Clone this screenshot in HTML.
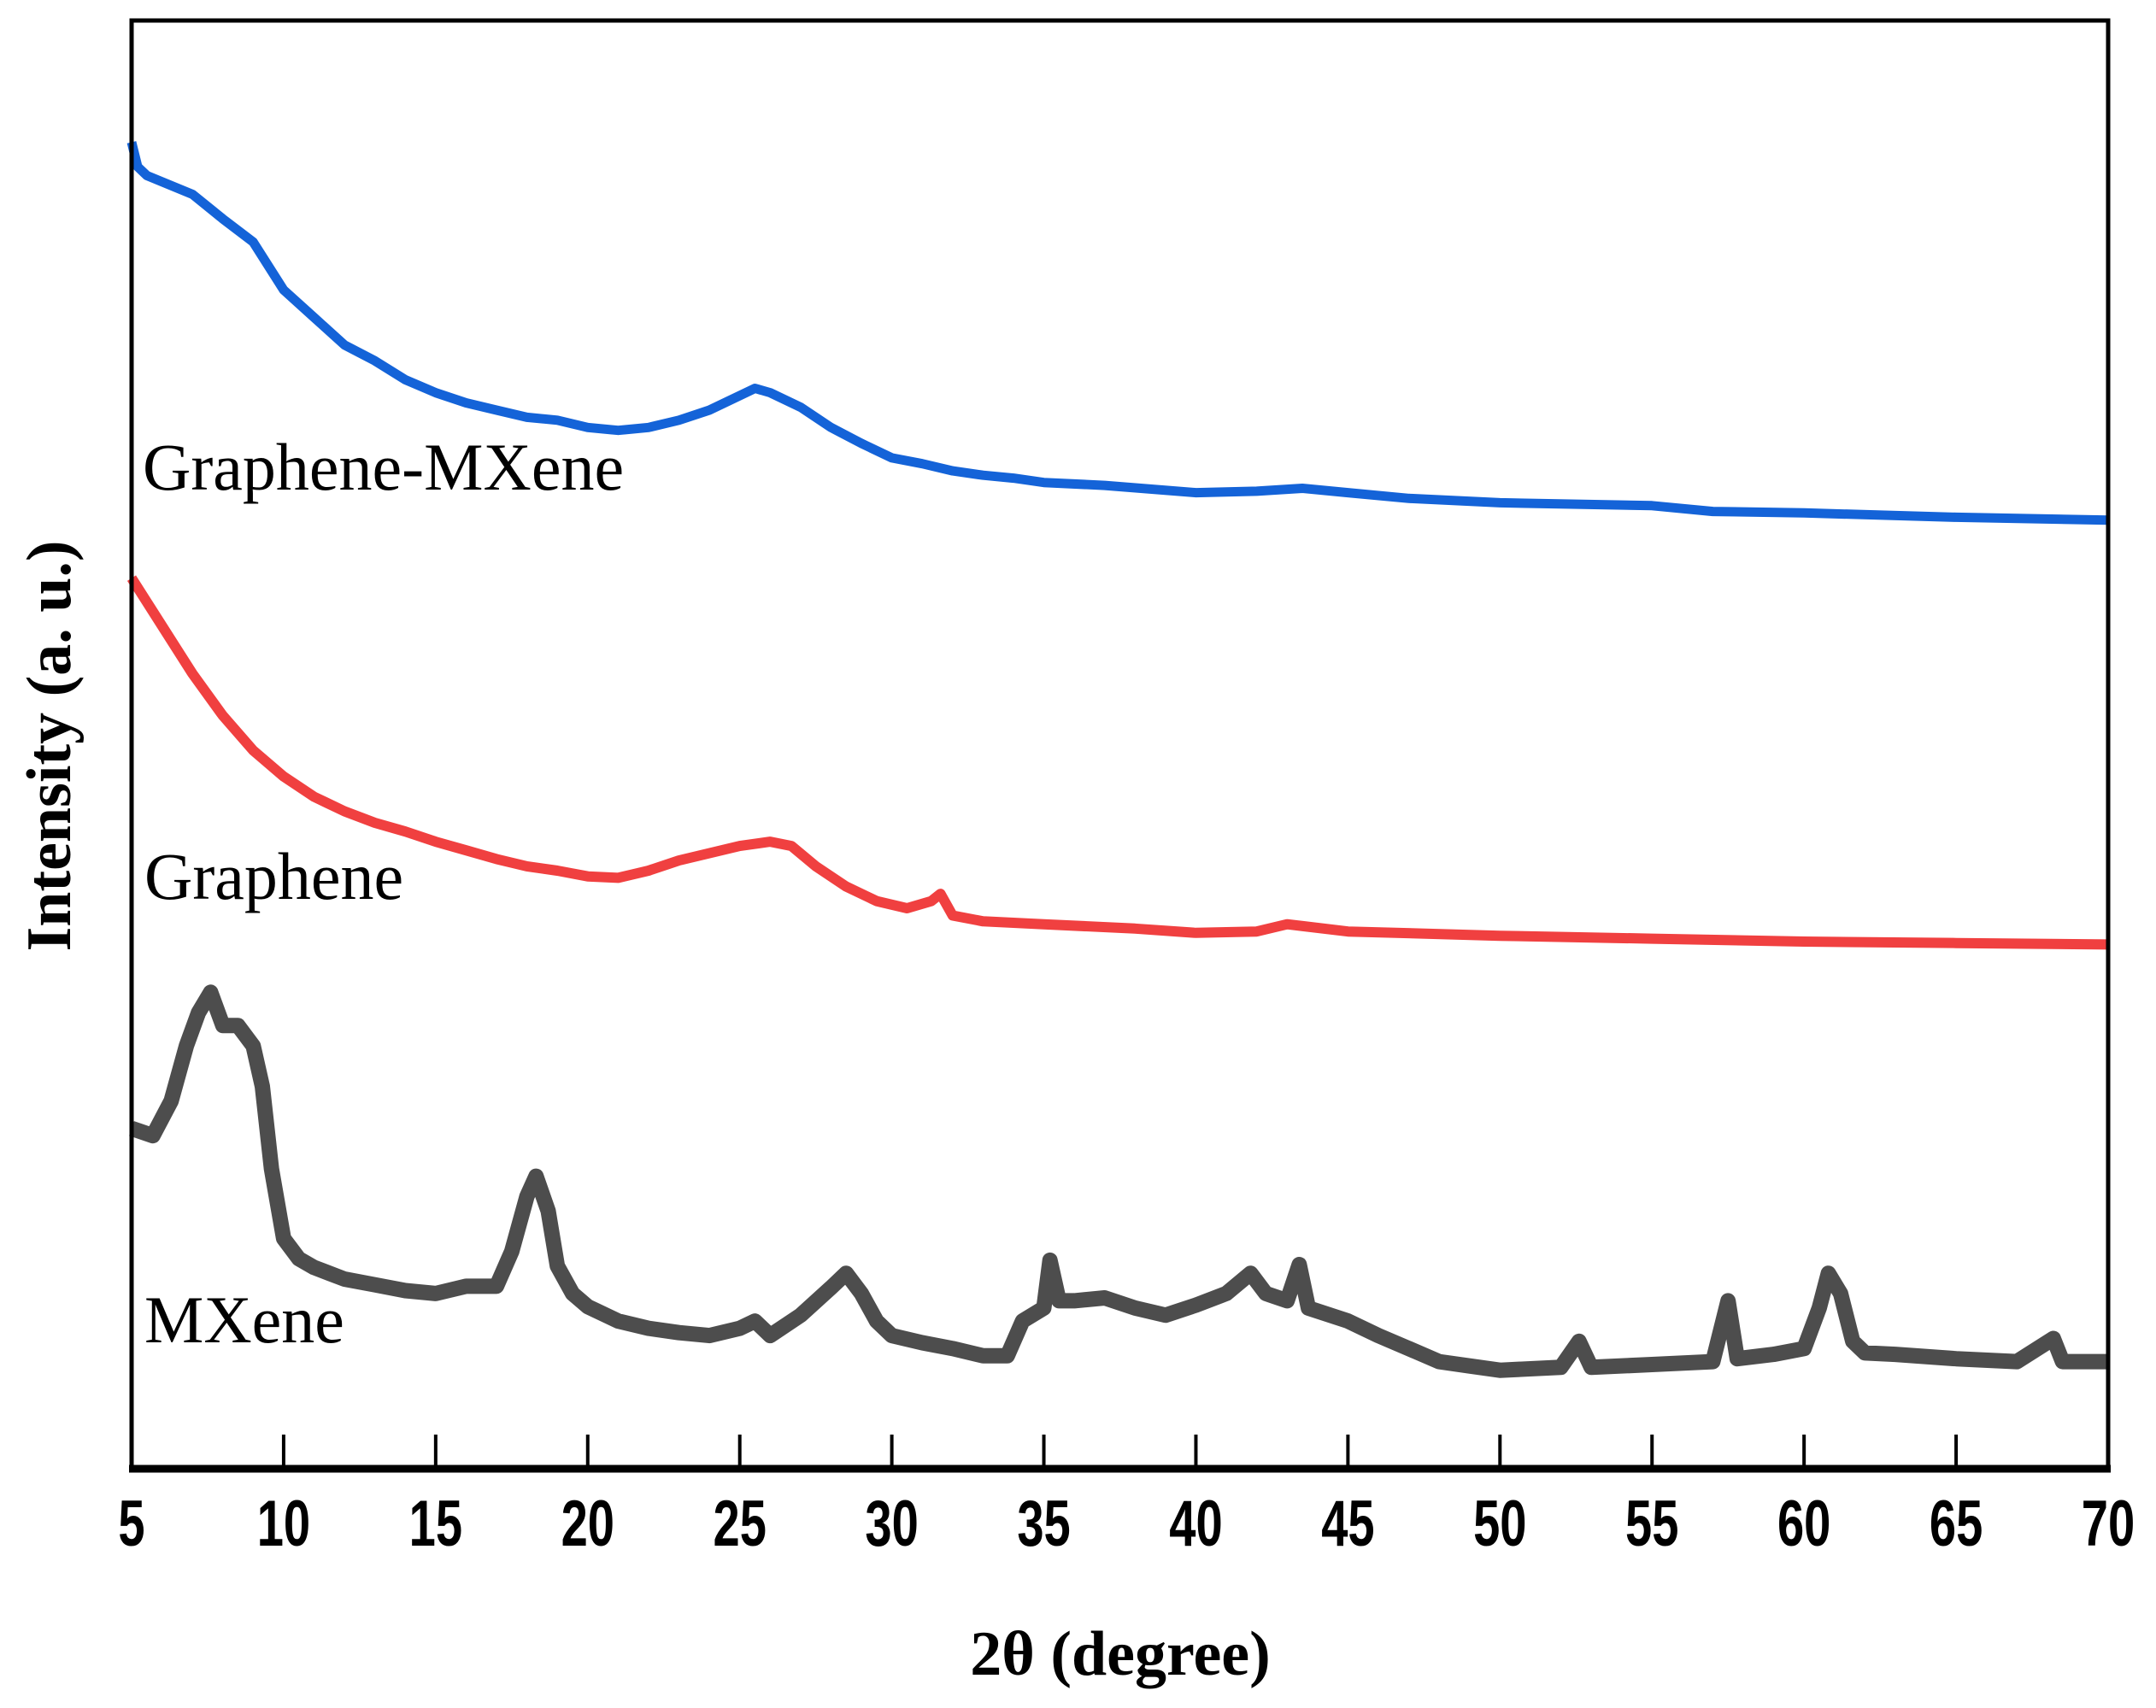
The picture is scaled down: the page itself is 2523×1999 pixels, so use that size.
<!DOCTYPE html>
<html><head><meta charset="utf-8"><style>
html,body{margin:0;padding:0;background:#fff;}
svg{display:block;}
</style></head><body>
<svg id="chart" width="2523" height="1999" viewBox="0 0 2523 1999" xmlns="http://www.w3.org/2000/svg">
<rect x="0" y="0" width="2523" height="1999" fill="#fff"/>
<g id="series"></g>
<g id="ticks"></g>
<rect x="154" y="24" width="2313" height="1695" fill="none" stroke="#000" stroke-width="5"/>
<line x1="151" y1="1719" x2="2470" y2="1719" stroke="#000" stroke-width="9"/>
<text x="167" y="573" font-family="Liberation Serif, serif" font-size="78">Graphene-MXene</text>
<text x="169" y="1052" font-family="Liberation Serif, serif" font-size="78">Graphene</text>
<text x="169" y="1571" font-family="Liberation Serif, serif" font-size="78">MXene</text>
<text x="1311" y="1960" text-anchor="middle" font-family="Liberation Serif, serif" font-weight="bold" font-size="74">2θ (degree)</text>
<text transform="translate(82,873) rotate(-90)" text-anchor="middle" font-family="Liberation Serif, serif" font-weight="bold" font-size="74">Intensity (a. u.)</text>
</svg>
<script>
const xTicks=[5,10,15,20,25,30,35,40,45,50,55,60,65,70];
const blueX=[5,5.2,5.5,7,8,9,10,11,12,13,14,15,16,17,18,19,20,21,22,23,24,25,25.5,26,27,28,29,30,31,32,33,34,35,37,40,42,43.5,45,47,50,55,57,60,65,70];
const blueY=[91.6,89.9,89.3,88,86.3,84.7,81.4,79.5,77.6,76.5,75.2,74.3,73.6,73.1,72.6,72.4,71.9,71.7,71.9,72.4,73.1,74.1,74.6,74.3,73.3,71.9,70.8,69.8,69.4,68.9,68.6,68.4,68.1,67.9,67.4,67.5,67.7,67.4,67,66.7,66.5,66.1,66,65.7,65.5];
const redX=[5,6,7,8,9,10,11,12,13,14,15,16,17,18,19,20,21,22,23,24,25,26,26.7,27.5,28.5,29.5,30.5,31.3,31.6,32,33,35,38,40,42,43,45,50,55,60,65,70];
const redY=[61.5,58.2,54.9,52,49.6,47.8,46.4,45.4,44.6,44,43.3,42.7,42.1,41.6,41.3,40.9,40.8,41.3,42,42.5,43,43.3,43,41.6,40.2,39.2,38.7,39.2,39.7,38.2,37.8,37.6,37.3,37,37.1,37.6,37.1,36.8,36.6,36.4,36.3,36.2];
const greyX=[5,5.7,6.3,6.8,7.2,7.6,8,8.5,9,9.3,9.6,10,10.5,11,12,13,14,15,16,17,17.5,18,18.3,18.7,19,19.5,20,21,22,23,24,25,25.5,26,27,28,28.5,29,29.5,30,31,32,33,33.8,34.3,35,35.2,35.5,36,37,38,39,40,41,41.8,42.3,43,43.4,43.7,45,46,47,48,49,50,52,52.6,53,55,57,57.5,57.8,59,60,60.5,60.8,61.2,61.6,62,63,65,67,68.2,68.5,70];
const greyY=[23.5,23,25.4,29.2,31.5,32.9,30.6,30.6,29.2,26.4,20.7,15.9,14.5,13.9,13.1,12.7,12.3,12.1,12.6,12.6,15,18.8,20.2,17.8,14,12.1,11.2,10.2,9.7,9.4,9.2,9.7,10.2,9.2,10.6,12.5,13.5,12.1,10.2,9.2,8.7,8.3,7.8,7.8,10.2,11.1,14.4,11.6,11.6,11.8,11.1,10.6,11.3,12.1,13.5,12.1,11.6,14.1,11.1,10.2,9.2,8.3,7.4,7.1,6.8,7,8.8,7,7.2,7.4,11.6,7.6,7.9,8.3,11.1,13.5,12.1,8.8,8,7.9,7.6,7.4,9,7.4,7.4];
const NS='http://www.w3.org/2000/svg';
const X0=154,X1=2467,Ytop=24,Ybot=1719;
function xs(v){return X0+(v-5)/(70-5)*(X1-X0);}
function ys(v){return Ybot-v/100*(Ybot-Ytop);}
const sg=document.getElementById('series');
function drawLine(xa,ya,color,w,name){
  let d='';
  for(let i=0;i<xa.length;i++){d+=(i?'L':'M')+xs(xa[i]).toFixed(1)+','+ys(ya[i]).toFixed(1);}
  const p=document.createElementNS(NS,'path');
  p.setAttribute('d',d);p.setAttribute('fill','none');p.setAttribute('stroke',color);
  p.setAttribute('stroke-width',w);p.setAttribute('stroke-linejoin','round');
  
  
  sg.appendChild(p);
}
drawLine(greyX,greyY,'#4d4d4d',18,'mxene-series');
drawLine(redX,redY,'#f04040',12,'graphene-series');
drawLine(blueX,blueY,'#1463d8',11,'graphene-mxene-series');
const tg=document.getElementById('ticks');
xTicks.forEach(t=>{
  const x=xs(t);
  if(t!==5&&t!==70){
    const l=document.createElementNS(NS,'line');
    l.setAttribute('x1',x);l.setAttribute('x2',x);l.setAttribute('y1',Ybot-40);l.setAttribute('y2',Ybot);
    l.setAttribute('stroke','#000');l.setAttribute('stroke-width',4);
    
    
    tg.appendChild(l);
  }
  const tx=document.createElementNS(NS,'text');
  tx.setAttribute('x',0);tx.setAttribute('y',0);
  tx.setAttribute('transform','translate('+x+',1809) scale(0.85,1.15)');
  tx.setAttribute('text-anchor','middle');
  tx.setAttribute('font-family','Liberation Sans, sans-serif');
  tx.setAttribute('font-weight','bold');tx.setAttribute('font-size','66');
  tx.textContent=t;
  
  
  tg.appendChild(tx);
});
</script>
</body></html>
